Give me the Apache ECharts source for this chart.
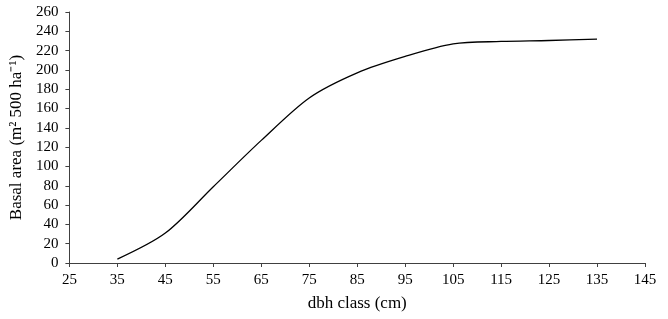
<!DOCTYPE html>
<html>
<head>
<meta charset="utf-8">
<script src="https://cdn.jsdelivr.net/npm/echarts@6/dist/echarts.min.js"></script>
<style>
  html, body { margin: 0; padding: 0; background: #fff; }
  #main { width: 668px; height: 319px; }
</style>
</head>
<body>
<div id="main"></div>
<script>
// dbh class (cm) and basal area
var dbh = [35, 45, 55, 65, 75, 85, 95, 105, 115, 125, 135];
var basalArea = [4, 31, 79, 127, 171, 197, 214, 227, 229.5, 230.5, 232];

var myChart = echarts.init(document.getElementById('main'));

var labelFont = {
  fontFamily: 'Liberation Serif',
  fontSize: 15,
  color: '#000'
};
var titleFont = {
  fontFamily: 'Liberation Serif',
  fontSize: 17,
  color: '#000'
};

var option = {
  animation: false,
  grid: {
    left: 69,
    right: 23,
    top: 12,
    bottom: 56
  },
  xAxis: {
    type: 'value',
    min: 25,
    max: 145,
    interval: 10,
    name: 'dbh class (cm)',
    nameLocation: 'middle',
    nameGap: 32,
    nameTextStyle: titleFont,
    axisLine: { lineStyle: { color: '#404040', width: 1 } },
    axisTick: { length: 4, lineStyle: { color: '#404040' } },
    axisLabel: Object.assign({ margin: 10 }, labelFont),
    splitLine: { show: false }
  },
  yAxis: {
    type: 'value',
    min: 0,
    max: 260,
    interval: 20,
    name: 'Basal area (m\u00B2 500 ha\u207B\u00B9)',
    nameLocation: 'middle',
    nameGap: 40,
    nameTextStyle: titleFont,
    axisLine: { show: true, lineStyle: { color: '#404040', width: 1 } },
    axisTick: { show: true, length: 4, lineStyle: { color: '#404040' } },
    axisLabel: Object.assign({ margin: 11 }, labelFont),
    splitLine: { show: false }
  },
  series: [{
    type: 'line',
    data: dbh.map(function (d, i) { return [d, basalArea[i]]; }),
    smooth: 0.3,
    symbol: 'none',
    lineStyle: { color: '#000', width: 1.3 }
  }]
};

myChart.setOption(option);
</script>
</body>
</html>
